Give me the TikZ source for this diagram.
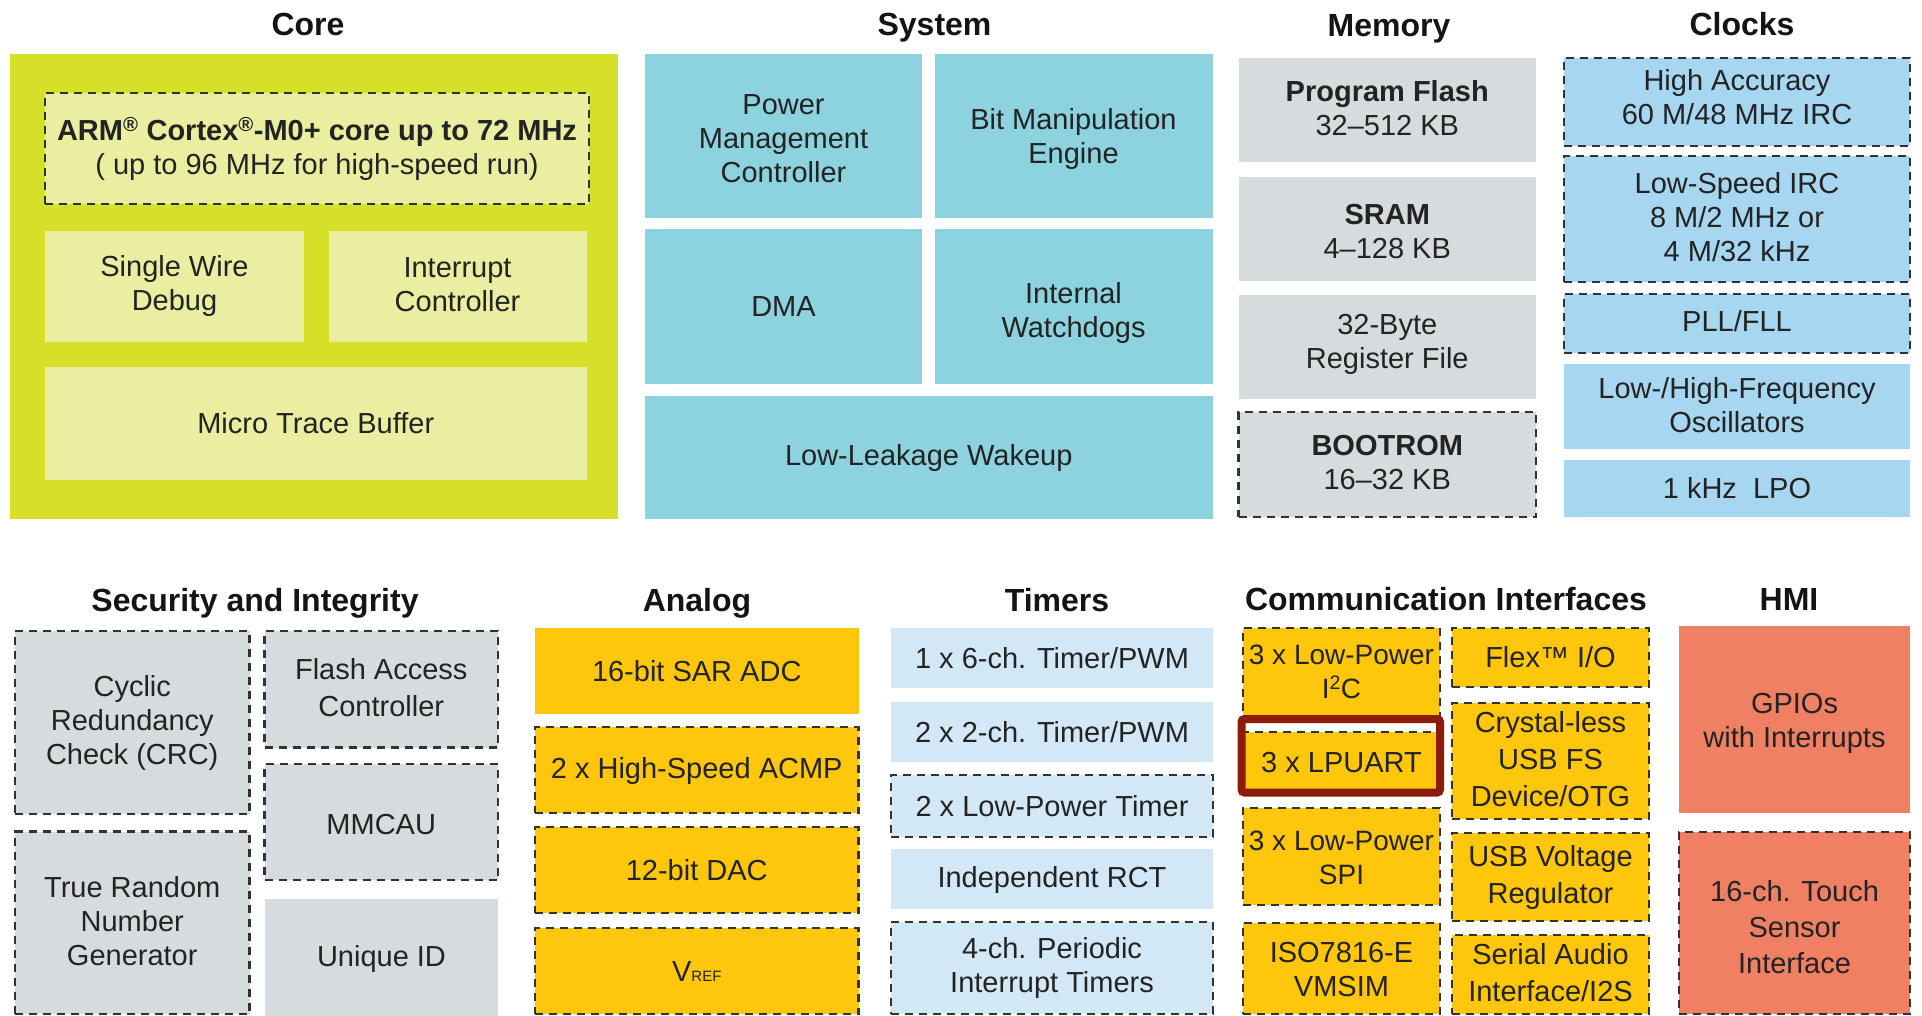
\documentclass[tikz,border=0pt]{standalone}
\usepackage{fontspec}
\setmainfont{Liberation Sans}
\definecolor{coregreen}{RGB}{214,224,40}
\definecolor{coreinner}{RGB}{233,238,160}
\definecolor{systeal}{RGB}{141,211,223}
\definecolor{memgray}{RGB}{214,220,222}
\definecolor{clkblue}{RGB}{167,214,240}
\definecolor{timblue}{RGB}{211,232,246}
\definecolor{yel}{RGB}{255,199,12}
\definecolor{hmired}{RGB}{240,128,100}
\definecolor{hlred}{RGB}{140,28,8}
\definecolor{dashcol}{RGB}{50,50,50}
\definecolor{txt}{RGB}{35,35,35}
\newcommand\mystrut{\rule[-4pt]{0pt}{28pt}}
\newcommand\blk[7]{\node[#6, minimum width={#4-#2}, minimum height={#5-#3}] (#1) at ({(#2+#4)/2},{(#3+#5)/2}) {#7};}
\tikzset{
  base/.style={rectangle, inner sep=0pt, outer sep=0pt, align=center, text=txt,
    font=\fontsize{29}{34}\selectfont,
    execute at begin node=\mystrut, execute at end node=\mystrut},
  wide/.style={font=\fontsize{29}{37}\selectfont},
  tdown/.style={execute at begin node={\rule[-4pt]{0pt}{\dimexpr 28pt+#1pt*2\relax}}},
  ttop/.style={execute at begin node={\rule[-4pt]{0pt}{\dimexpr #1pt+4pt\relax}}},
  tup/.style={execute at end node={\rule[\dimexpr -4pt-#1pt*2\relax]{0pt}{\dimexpr 28pt+#1pt*2\relax}}},
  dsh/.style={draw=dashcol, line width=2.5pt, dash pattern=on 8pt off 6pt},
  coreb/.style={base, fill=coreinner},
  sysb/.style={base, fill=systeal},
  memb/.style={base, fill=memgray},
  clkb/.style={base, fill=clkblue},
  timb/.style={base, fill=timblue},
  yelb/.style={base, fill=yel},
  hmib/.style={base, fill=hmired},
  hdr/.style={font=\fontsize{32}{36}\selectfont\bfseries, text=black!92, anchor=base, inner sep=0pt},
  hilite/.style={rectangle, draw=hlred, line width=8pt, rounded corners=3pt, inner sep=0pt, outer sep=0pt}
}
\begin{document}
\begin{tikzpicture}[x=1pt,y=-1pt]
\useasboundingbox[fill=white] (0,0) rectangle (1922,1016);
% headers
\node[hdr] (hcore) at (308,36) {Core};
\node[hdr] (hsys) at (934.5,36) {System};
\node[hdr] (hmem) at (1389,37) {Memory};
\node[hdr] (hclk) at (1742,36) {Clocks};
\node[hdr] (hsec) at (255,611) {Security and Integrity};
\node[hdr] (hana) at (697,611) {Analog};
\node[hdr] (htim) at (1057,611) {Timers};
\node[hdr] (hcom) at (1446,610) {Communication Interfaces};
\node[hdr] (hhmi) at (1789,610) {HMI};
% Core
\blk{coreframe}{10}{54}{618}{519}{base, fill=coregreen}{}
\blk{arm}{45}{93}{589}{204}{coreb, dsh}{\textbf{ARM\textsuperscript{®} Cortex\textsuperscript{®}-M0+ core up to 72 MHz}\\( up to 96 MHz for high-speed run)}
\blk{swd}{45}{231}{304}{341.5}{coreb}{Single Wire\\Debug}
\blk{intc}{328.6}{231}{586.5}{341.5}{coreb}{Interrupt\\Controller}
\blk{mtb}{45}{367}{586.5}{479.5}{coreb}{Micro Trace Buffer}
% System
\blk{pmc}{645}{54}{922}{218}{sysb, ttop=98}{Power\\Management\\Controller}
\blk{bme}{934.5}{54}{1212.5}{218}{sysb, ttop=62}{Bit Manipulation\\Engine}
\blk{dma}{645}{229}{922}{384}{sysb}{DMA}
\blk{wdog}{934.5}{229}{1212.5}{384}{sysb, ttop=69}{Internal\\Watchdogs}
\blk{llw}{645}{396}{1212.5}{519}{sysb, tup=2.5}{Low-Leakage Wakeup}
% Memory
\blk{pflash}{1238.5}{58}{1536}{162}{memb}{\textbf{Program Flash}\\32–512 KB}
\blk{sram}{1238.5}{177.5}{1536}{280.6}{memb, ttop=62}{\textbf{SRAM}\\4–128 KB}
\blk{regf}{1238.5}{295}{1536}{399}{memb, tup=3.5}{32-Byte\\Register File}
\blk{boot}{1238.5}{412}{1536}{517}{memb, dsh}{\textbf{BOOTROM}\\16–32 KB}
% Clocks
\blk{hacc}{1564}{58}{1910}{146}{clkb, dsh, tup=3}{High Accuracy\\60 M/48 MHz IRC}
\blk{lsirc}{1564}{156}{1910}{282}{clkb, dsh}{Low-Speed IRC\\8 M/2 MHz or\\4 M/32 kHz}
\blk{pll}{1564}{294}{1910}{353}{clkb, dsh, tup=2.5}{PLL/FLL}
\blk{lhosc}{1564}{364}{1910}{449}{clkb}{Low-/High-Frequency\\Oscillators}
\blk{lpo}{1564}{460}{1910}{517}{clkb}{1 kHz\ \ LPO}
% Security
\blk{crc}{15}{631}{249.5}{814}{memb, dsh}{Cyclic\\Redundancy\\Check (CRC)}
\blk{fac}{264.5}{631}{498}{747.5}{memb, dsh, wide}{Flash Access\\Controller}
\blk{mmcau}{264.5}{764}{498}{880}{memb, dsh, tdown=2.5}{MMCAU}
\blk{trng}{15}{831.5}{249.5}{1014}{memb, dsh}{True Random\\Number\\Generator}
\blk{uid}{265}{899}{498}{1016}{memb}{Unique ID}
% Analog
\blk{adc}{535}{628}{858.5}{714}{yelb}{16-bit SAR ADC}
\blk{acmp}{535}{727}{858.5}{813}{yelb, dsh}{2 x High-Speed ACMP}
\blk{dac}{535}{827}{858.5}{913}{yelb, dsh}{12-bit DAC}
\blk{vref}{535}{928}{858.5}{1014}{yelb, dsh}{V{\fontsize{15}{15}\selectfont REF}}
% Timers
\blk{tsix}{891}{628}{1213}{688}{timb}{1 x 6-ch. Timer/PWM}
\blk{ttwo}{891}{702}{1213}{762}{timb}{2 x 2-ch. Timer/PWM}
\blk{lpt}{891}{775}{1213}{837}{timb, dsh}{2 x Low-Power Timer}
\blk{rct}{891}{849}{1213}{909}{timb}{Independent RCT}
\blk{pit}{891}{922}{1213}{1014}{timb, dsh}{4-ch. Periodic\\Interrupt Timers}
% Communication
\blk{itc}{1243}{628}{1440}{719}{yelb, dsh, font=\fontsize{28}{34}\selectfont}{3 x Low-Power\\I\textsuperscript{2}C}
\blk{lpuart}{1243}{732}{1440}{792}{yelb, dsh}{3 x LPUART}
\blk{spi}{1243}{808}{1440}{905}{yelb, dsh, font=\fontsize{28}{34}\selectfont, ttop=59}{3 x Low-Power\\SPI}
\blk{iso}{1243}{923}{1440}{1014}{yelb, dsh, ttop=59.5}{ISO7816-E\\VMSIM}
\blk{flex}{1452}{628}{1649}{687}{yelb, dsh}{Flex™ I/O}
\blk{xusb}{1452}{703}{1649}{819}{yelb, dsh, wide}{Crystal-less\\USB FS\\Device/OTG}
\blk{usbv}{1452}{833}{1649}{921}{yelb, dsh, wide}{USB Voltage\\Regulator}
\blk{sai}{1452}{935}{1649}{1014}{yelb, dsh, wide}{Serial Audio\\Interface/I2S}
\node[hilite, minimum width=198.5pt, minimum height=73.5pt] (hl) at (1340.75,755.75) {};
% HMI
\blk{gpio}{1679}{626}{1910}{813}{hmib, ttop=61.5}{GPIOs\\with Interrupts}
\blk{touch}{1679}{832}{1910}{1014}{hmib, dsh, font=\fontsize{29}{36}\selectfont, ttop=105}{16-ch. Touch\\Sensor\\Interface}
\end{tikzpicture}
\end{document}
